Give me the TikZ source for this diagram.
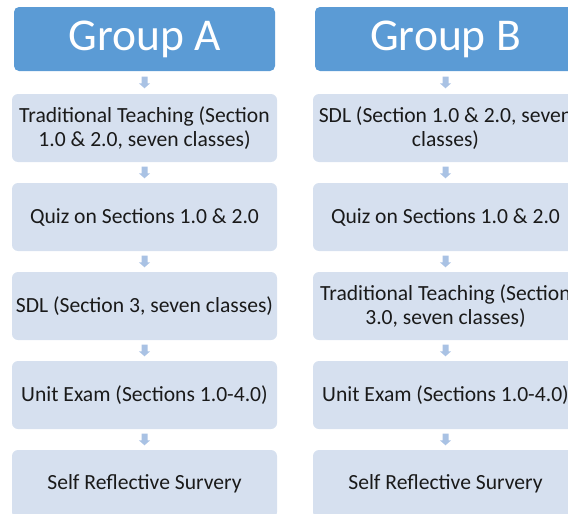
\documentclass[tikz,border=0pt]{standalone}
\usepackage{fontspec}
\setmainfont{Carlito}
\usetikzlibrary{calc}
\definecolor{hdrblue}{HTML}{5B9BD5}
\definecolor{boxblue}{HTML}{D6E0EF}
\definecolor{arrblue}{HTML}{A9C2E4}
\definecolor{txt}{HTML}{1A1A1A}
\begin{document}
\begin{tikzpicture}[x=1pt,y=-1pt,
  header/.style={fill=hdrblue, rounded corners=5pt, minimum width=261pt,
    minimum height=64pt, inner sep=0pt, text=white,
    font=\fontsize{45.5}{50}\selectfont},
  stepbox/.style={fill=boxblue, rounded corners=6pt, minimum width=265pt,
    minimum height=68pt, inner sep=0pt, align=center, text=txt,
    font=\fontsize{21.6}{24.5}\selectfont}]
\useasboundingbox (0,0) rectangle (568,514);
\clip (0,0) rectangle (568,514);

% block arrow centred in the gap between two nodes
\newcommand{\flowarrow}[2]{%
  \coordinate (m) at ($(#1.south)!0.5!(#2.north)$);
  \fill[arrblue] ($(m)+(-3,-5.8)$) -- ($(m)+(3,-5.8)$) -- ($(m)+(3,0.8)$)
    -- ($(m)+(5.6,0.8)$) -- ($(m)+(0,5.8)$) -- ($(m)+(-5.6,0.8)$)
    -- ($(m)+(-3,0.8)$) -- cycle;}

% Group A
\node[header] (ha) at (144.5,39) {Group A};
\node[stepbox] (a1) at (144.5,128) {Traditional Teaching (Section\\1.0 \& 2.0, seven classes)};
\node[stepbox] (a2) at (144.5,217) {Quiz on Sections 1.0 \& 2.0};
\node[stepbox] (a3) at (144.5,306) {SDL (Section 3, seven classes)};
\node[stepbox] (a4) at (144.5,395) {Unit Exam (Sections 1.0-4.0)};
\node[stepbox] (a5) at (144.5,484) {Self Reflective Survery};

% Group B
\node[header] (hb) at (445.5,39) {Group B};
\node[stepbox] (b1) at (445.5,128) {SDL (Section 1.0 \& 2.0, seven\\classes)};
\node[stepbox] (b2) at (445.5,217) {Quiz on Sections 1.0 \& 2.0};
\node[stepbox] (b3) at (445.5,306) {Traditional Teaching (Section\\3.0, seven classes)};
\node[stepbox] (b4) at (445.5,395) {Unit Exam (Sections 1.0-4.0)};
\node[stepbox] (b5) at (445.5,484) {Self Reflective Survery};

\flowarrow{ha}{a1}
\flowarrow{a1}{a2}
\flowarrow{a2}{a3}
\flowarrow{a3}{a4}
\flowarrow{a4}{a5}
\flowarrow{hb}{b1}
\flowarrow{b1}{b2}
\flowarrow{b2}{b3}
\flowarrow{b3}{b4}
\flowarrow{b4}{b5}
\end{tikzpicture}
\end{document}
